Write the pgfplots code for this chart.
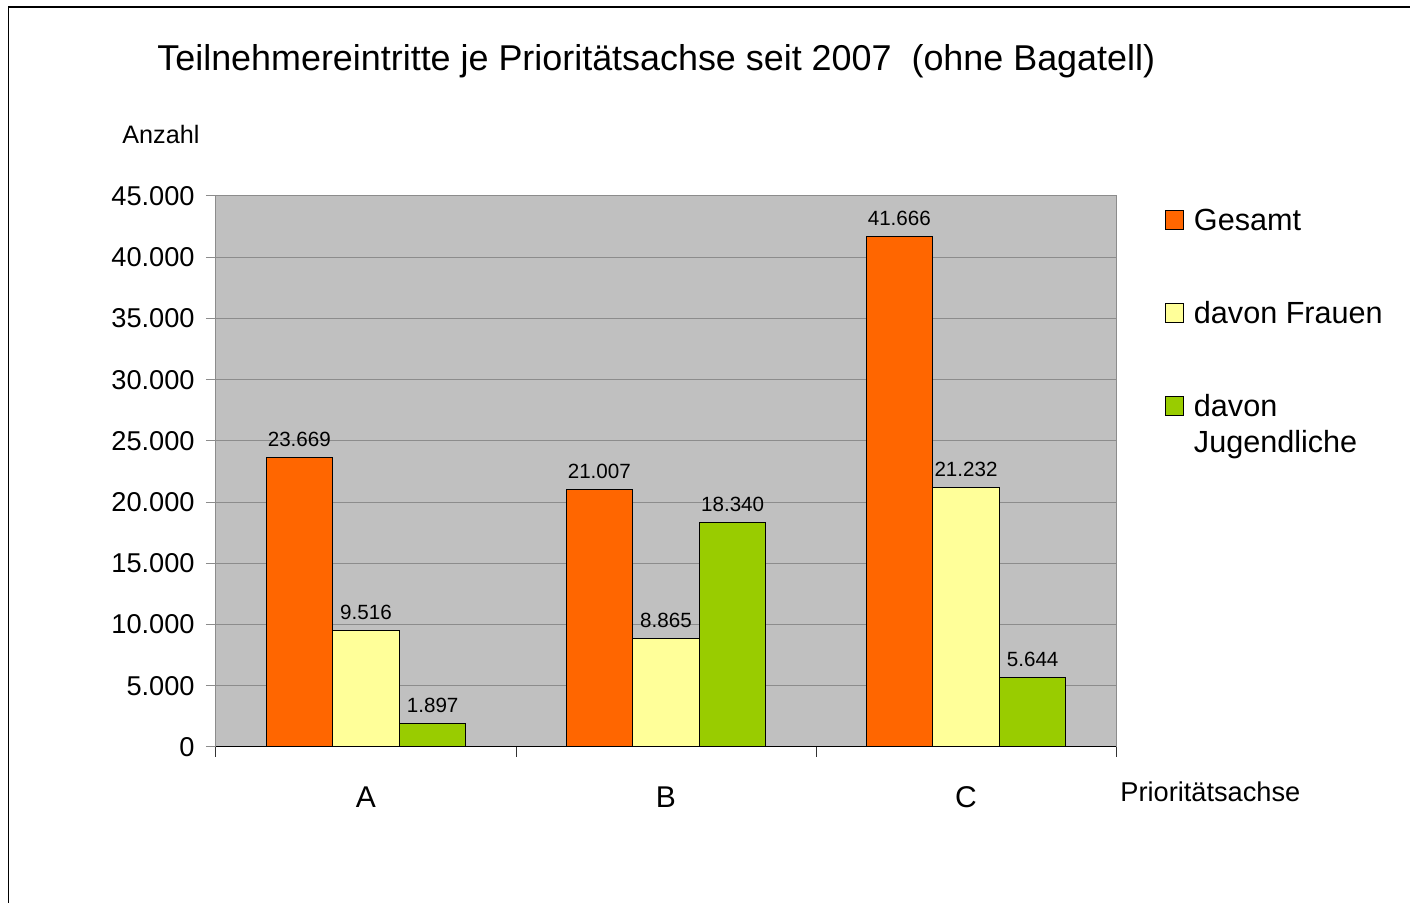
\documentclass[border=0pt]{standalone}
\usepackage{pgfplots}
\pgfplotsset{compat=1.18}
\usepackage{fontspec}
\setmainfont{Liberation Sans}
\definecolor{cOr}{HTML}{FF6600}
\definecolor{cYe}{HTML}{FFFF99}
\definecolor{cGr}{HTML}{99CC00}
\definecolor{cBg}{HTML}{C0C0C0}
\definecolor{cGrid}{HTML}{8C8C8C}
\begin{document}
\begin{tikzpicture}[x=0.5pt,y=0.5pt]
\useasboundingbox (0,0) rectangle (1410,903);
\draw[line width=0.75pt] (8.5,0) -- (8.5,896) -- (1410,896);
\node[anchor=base west, inner sep=0pt, font=\fontsize{17.95}{21}\selectfont] at (157,832) {Teilnehmereintritte je Prioritätsachse seit 2007\ \ (ohne Bagatell)};
\node[anchor=base west, inner sep=0pt, font=\fontsize{12.6}{15}\selectfont] at (122,759) {Anzahl};
\node[anchor=base west, inner sep=0pt, font=\fontsize{13.6}{16}\selectfont] at (1120,101) {Prioritätsachse};
\begin{axis}[
  at={(108pt,78pt)}, anchor=south west,
  width=450pt, height=275.5pt, scale only axis,
  ybar,
  xmin=-0.5, xmax=2.5, ymin=0, ymax=45000,
  axis background/.style={fill=cBg},
  axis line style={cGrid, line width=0.5pt},
  ytick={0,5000,...,45000}, ymajorgrids,
  grid style={cGrid, line width=0.5pt},
  tick align=outside, major tick length=5pt,
  xtick pos=bottom, ytick pos=left,
  y tick style={cGrid, line width=0.5pt},
  x tick style={black!80, line width=0.5pt},
  xtick={-0.5,0.5,1.5,2.5}, xticklabels={,,,},
  extra x ticks={0,1,2}, extra x tick labels={A,B,C},
  extra x tick style={major tick length=0pt, tick label style={anchor=base, yshift=-30.5pt, font=\fontsize{15}{18}\selectfont}},
  scaled y ticks=false,
  /pgf/number format/1000 sep={.},
  /pgf/number format/assume math mode=true,
  yticklabel style={font=\fontsize{13.6}{16}\selectfont, inner sep=0pt, anchor=east, xshift=-5.5pt},
  nodes near coords,
  every node near coord/.append style={font=\fontsize{10.3}{12}\selectfont, inner sep=0pt, anchor=base, yshift=5.5pt, black},
  bar width=0.2222,
  legend cell align=left,
  legend style={at={(axis description cs:1.0544,0.9764)}, anchor=north west, draw=none, fill=none, inner sep=0pt, outer sep=0pt,
    row sep=34pt, font=\fontsize{15.3}{18}\selectfont,
    nodes={inner sep=0pt, text height=11pt},
    cells={anchor=base west},
    /tikz/every odd column/.append style={column sep=5pt}},
  legend image code/.code={\draw[#1, line width=0.5pt] (0pt,0.5pt) rectangle (9pt,10pt);},
]
\addplot[fill=cOr, draw=black, line width=0.5pt, bar shift=-0.2222] coordinates {(0,23669) (1,21007) (2,41666)};
\addplot[fill=cYe, draw=black, line width=0.5pt, bar shift=0] coordinates {(0,9516) (1,8865) (2,21232)};
\addplot[fill=cGr, draw=black, line width=0.5pt, bar shift=0.2222] coordinates {(0,1897) (1,18340) (2,5644)};
\legend{Gesamt, davon Frauen, \vtop{\hbox{davon}\hbox{Jugendliche}}}
\draw[black, line width=0.6pt] (axis cs:-0.5,0) -- (axis cs:2.5,0);
\end{axis}
\end{tikzpicture}
\end{document}
